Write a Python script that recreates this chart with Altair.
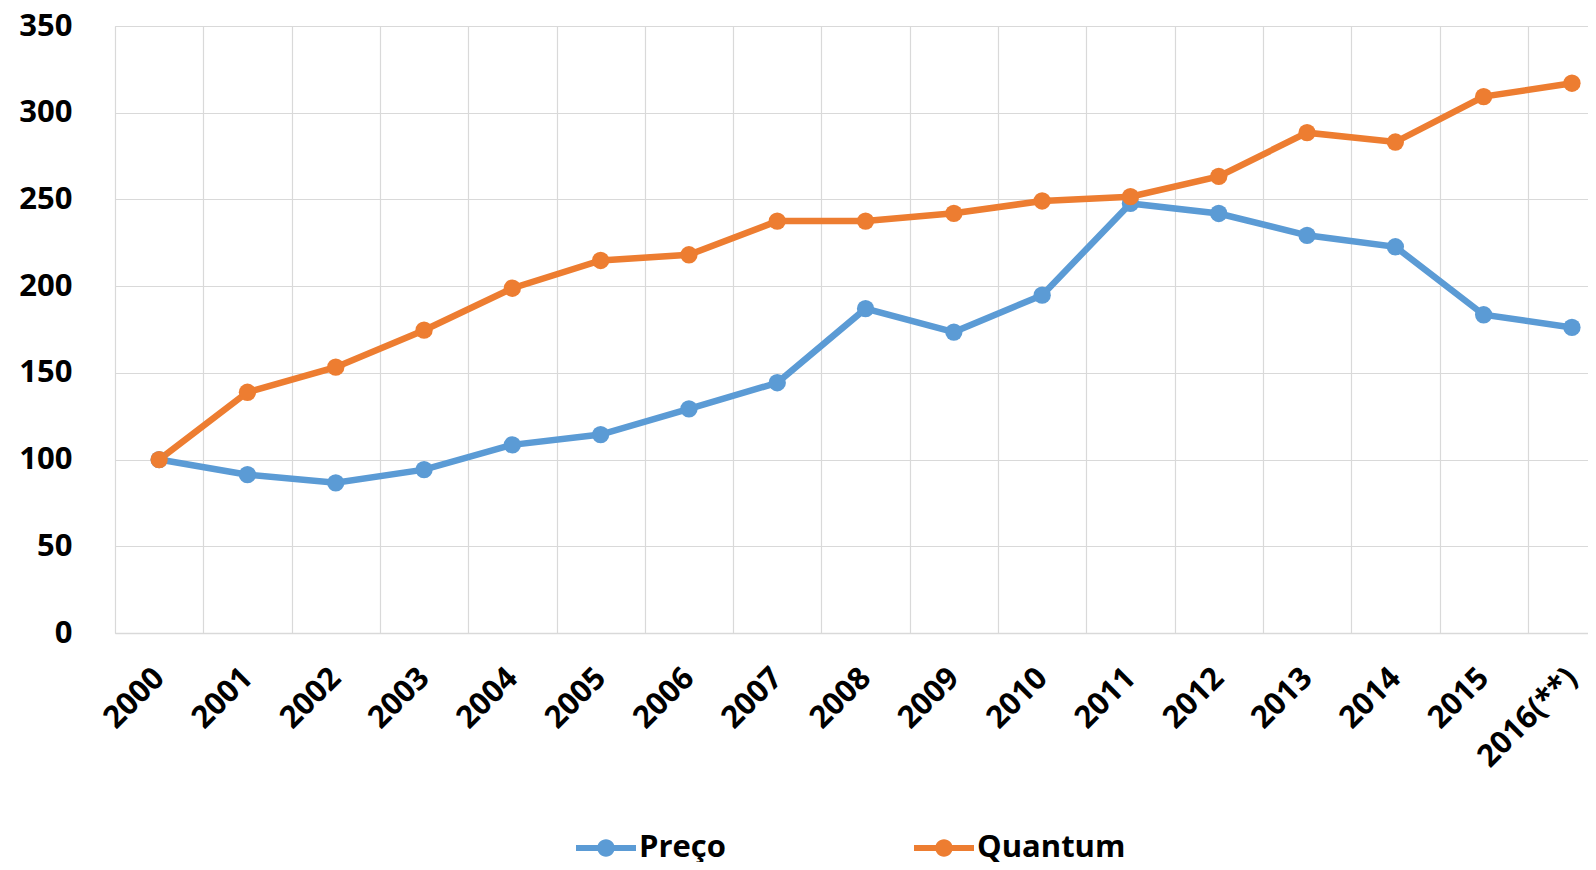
import altair as alt
import pandas as pd

years = ["2000", "2001", "2002", "2003", "2004", "2005", "2006", "2007", "2008",
         "2009", "2010", "2011", "2012", "2013", "2014", "2015", "2016(**)"]
preco = [100, 91.3, 86.6, 94.2, 108.5, 114.4, 129.2, 144.3, 187.0,
         173.5, 194.8, 247.7, 241.9, 229.3, 222.7, 183.5, 176.2]
quantum = [100, 138.8, 153.3, 174.6, 198.8, 214.8, 218.1, 237.5, 237.5,
           242.0, 249.1, 251.6, 263.3, 288.5, 283.1, 309.3, 317.0]
series = ["Preço", "Quantum"]
colors = ["#5B9BD5", "#ED7D31"]
y_ticks = [0, 50, 100, 150, 200, 250, 300, 350]

rows = []
for s, vals in zip(series, [preco, quantum]):
    for yr, v in zip(years, vals):
        rows.append({"ano": yr, "valor": v, "serie": s, "ordem": series.index(s)})
df = pd.DataFrame(rows)

FONT = "Open Sans"
FS = 31
BAND = 88.3
legend_path = ("M-1,-0.1L1,-0.1L1,0.1L-1,0.1Z "
               "M0,-0.29A0.29,0.29 0 1,1 0,0.29A0.29,0.29 0 1,1 0,-0.29Z")

x_enc = alt.X("ano:N", sort=years, title=None,
              scale=alt.Scale(domain=years, range=[0, BAND * len(years)],
                              paddingInner=0, paddingOuter=0),
              axis=alt.Axis(labelAngle=-45, labelAlign="right", labelBaseline="middle",
                            labelPadding=40, ticks=False, tickSize=0, tickBand="extent",
                            domainColor="#d9d9d9", domainWidth=1.5,
                            gridColor="#d9d9d9", gridWidth=1.2, grid=True,
                            labelFont=FONT, labelFontSize=FS, labelFontWeight="bold",
                            labelColor="#000000", labelOverlap=False))
y_enc = alt.Y("valor:Q", title=None,
              scale=alt.Scale(domain=[0, 350], nice=False, zero=True),
              axis=alt.Axis(values=y_ticks, domain=False, ticks=False, tickSize=0,
                            labelPadding=43, gridColor="#d9d9d9", gridWidth=1.2,
                            labelFont=FONT, labelFontSize=FS, labelFontWeight="bold",
                            labelColor="#000000"))
color_scale = alt.Scale(domain=series, range=colors)
legend = alt.Legend(title=None, orient="none", direction="horizontal",
                    legendX=461, legendY=792, padding=0,
                    symbolType=legend_path, symbolSize=3600,
                    symbolStrokeWidth=0, symbolOpacity=1,
                    labelFont=FONT, labelFontSize=FS,
                    labelFontWeight="bold", labelColor="#000000",
                    labelOffset=3, columnPadding=188, labelLimit=400)

lines = alt.Chart(df).mark_line(strokeWidth=6.5).encode(
    x=x_enc, y=y_enc,
    color=alt.Color("serie:N", scale=color_scale, legend=legend),
    order=alt.Order("ordem:Q"),
)
points = alt.Chart(df).mark_point(filled=True, shape="circle", size=300, opacity=1).encode(
    x=x_enc, y=y_enc,
    color=alt.Color("serie:N", scale=color_scale, legend=legend),
    order=alt.Order("ordem:Q"),
)

chart = alt.layer(lines, points).properties(
    width=1473, height=607,
    autosize=alt.AutoSizeParams(type="none"),
    padding={"left": 107, "top": 18, "right": 0, "bottom": 229},
).configure_view(stroke=None).configure(background="white")

chart.save("out.html", embed_options={"renderer": "svg", "actions": False})
